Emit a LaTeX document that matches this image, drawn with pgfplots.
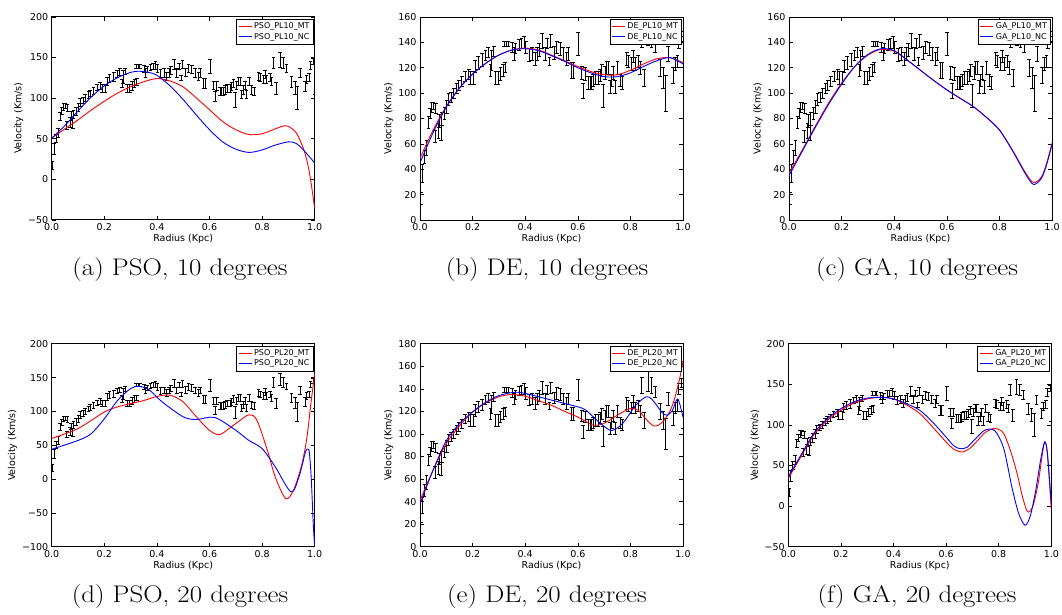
\documentclass[border=0pt]{standalone}
\usepackage{fontspec}
\usepackage{pgfplots}
\usepackage{pgfplotstable}
\pgfplotsset{compat=1.18}
\newfontfamily\dejavu{DejaVu Sans}

\pgfplotstableread{
x y e
0.003 17 5
0.009 37 7
0.017 50 5
0.025 57 6
0.032 77 5
0.038 84 4
0.045 89 4
0.051 90 3
0.057 66 5
0.060 88 4
0.070 70 6
0.073 78 5
0.080 69 6
0.083 80 5
0.093 84 5
0.102 89 5
0.108 95 5
0.119 97 4
0.128 100 4
0.140 104 4
0.147 106 4
0.159 109 4
0.172 113 4
0.185 115 4
0.191 112 5
0.204 112 5
0.210 121 5
0.220 124 5
0.236 126 5
0.249 130 4
0.259 132 4
0.268 118 5
0.272 126 8
0.280 133 4
0.287 112 5
0.297 112 5
0.306 115 5
0.315 118 5
0.320 139 2
0.323 120 4
0.330 139 2
0.335 139 2
0.351 136 4
0.357 131 5
0.363 135 4
0.376 138 4
0.386 139 4
0.395 140 5
0.402 136 5
0.414 130 5
0.427 131 5
0.437 127 5
0.446 131 5
0.453 134 5
0.465 141 6
0.475 131 5
0.484 139 4
0.492 125 3
0.497 141 5
0.510 132 5
0.520 136 5
0.532 135 5
0.545 131 5
0.558 127 5
0.564 131 5
0.577 118 6
0.583 118 6
0.602 139 9
0.615 116 5
0.621 102 6
0.627 115 5
0.640 108 5
0.646 108 5
0.653 108 5
0.659 110 5
0.668 112 5
0.678 112 5
0.684 114 5
0.691 118 5
0.697 98 9
0.703 116 5
0.710 120 5
0.716 120 5
0.722 105 5
0.729 110 5
0.735 116 5
0.741 105 5
0.751 120 5
0.760 110 5
0.769 108 5
0.786 127 5
0.792 125 5
0.805 123 5
0.811 129 5
0.817 123 5
0.830 125 5
0.836 120 5
0.843 143 7
0.853 112 7
0.868 147 9
0.880 143 7
0.893 137 5
0.912 120 7
0.925 112 8
0.934 100 14
0.944 131 6
0.963 114 6
0.969 123 5
0.979 125 5
0.984 140 5
0.995 145 4
1.000 125 20
}\datatab

\pgfplotsset{
  panel/.style={
    scale only axis, width=263pt, height=203pt,
    xmin=0, xmax=1,
    xtick={0,0.2,0.4,0.6,0.8,1},
    xticklabels={0.0,0.2,0.4,0.6,0.8,1.0},
    tick align=inside, major tick length=4pt,
    tick style={black, line width=0.6pt},
    axis line style={black, line width=0.8pt},
    ticklabel style={font=\dejavu\fontsize{9.5}{10}\selectfont},
    label style={font=\dejavu\fontsize{9.5}{10}\selectfont},
    xlabel={Radius (Kpc)}, ylabel={Velocity (Km/s)},
    xlabel style={yshift=3pt},
    ylabel style={yshift=-2pt},
    legend style={font=\dejavu\fontsize{8}{9}\selectfont, draw=black, line width=0.6pt, fill=white,
      at={(rel axis cs:0.995,0.99)}, anchor=north east, inner sep=1.5pt, row sep=-1pt, cells={anchor=west}},
    legend image code/.code={\draw[##1] (0pt,0pt) -- (13pt,0pt);},
  },
  dat/.style={black, only marks, mark=*, mark size=0pt, forget plot,
    error bars/.cd, y dir=both, y explicit, error mark=|,
    error bar style={black, solid, line width=0.7pt},
    error mark options={black, solid, line width=0.7pt, mark size=1.9pt}},
  mt/.style={red, line width=0.9pt, smooth, no marks, forget plot},
  nc/.style={blue, line width=0.9pt, smooth, no marks, forget plot},
}
\newcommand\subcap[1]{\scalebox{1.12}[1]{\fontsize{24}{28}\selectfont #1}}
\newcommand\legimgs{\addlegendimage{red, line width=1pt}\addlegendimage{blue, line width=1pt}}

\begin{document}
\begin{tikzpicture}
\useasboundingbox (0,0) rectangle (1062pt,-614pt);

% (a)
\begin{axis}[panel, at={(51.7pt,-219.8pt)}, anchor=south west,
  ymin=-50, ymax=200, ytick={-50,0,50,100,150,200},
  yticklabels={−50,0,50,100,150,200}]
\legimgs
\addplot[dat] table[x=x,y=y,y error=e]{\datatab};
\addplot[mt] coordinates {(0,50.6) (0.05,62) (0.1,73) (0.15,85) (0.2,96) (0.25,106) (0.3,114) (0.35,120) (0.4,124) (0.45,121) (0.5,113.6) (0.55,100) (0.6,85.6) (0.65,71) (0.7,61) (0.75,55) (0.8,56) (0.85,62) (0.88,65.5) (0.9,65) (0.93,57) (0.96,35) (0.98,8) (1.0,-36)};
\addplot[nc] coordinates {(0,50.6) (0.05,66) (0.1,84) (0.15,101) (0.2,115) (0.25,125) (0.3,131.5) (0.33,133) (0.37,131.5) (0.4,128) (0.45,115) (0.5,98) (0.55,79) (0.6,61) (0.65,46) (0.7,37) (0.75,33) (0.8,36) (0.85,42) (0.9,46) (0.93,44) (0.96,35) (1.0,20)};
\legend{PSO\_PL10\_MT, PSO\_PL10\_NC}
\end{axis}

% (b)
\begin{axis}[panel, at={(420pt,-220pt)}, anchor=south west,
  ymin=0, ymax=160, ytick={0,20,40,60,80,100,120,140,160},
  yticklabels={0,20,40,60,80,100,120,140,160}]
\legimgs
\addplot[dat] table[x=x,y=y,y error=e]{\datatab};
\addplot[mt] coordinates {(0,48.7) (0.05,71) (0.1,89.5) (0.15,104) (0.2,115) (0.25,123.5) (0.3,130) (0.35,134) (0.4,135.5) (0.45,134) (0.5,130) (0.55,125.5) (0.6,121) (0.65,117) (0.7,114.5) (0.75,114.5) (0.8,118) (0.85,123) (0.9,127) (0.95,128) (1.0,124)};
\addplot[nc] coordinates {(0,45) (0.05,69) (0.1,89) (0.15,104) (0.2,115) (0.25,123.5) (0.3,130) (0.35,134) (0.4,135) (0.45,133.5) (0.5,129.5) (0.55,125) (0.6,120) (0.65,116) (0.7,113) (0.75,113) (0.8,116) (0.85,121) (0.9,125.5) (0.95,128) (1.0,123)};
\legend{DE\_PL10\_MT, DE\_PL10\_NC}
\end{axis}

% (c)
\begin{axis}[panel, at={(789pt,-220pt)}, anchor=south west,
  ymin=0, ymax=160, ytick={0,20,40,60,80,100,120,140,160},
  yticklabels={0,20,40,60,80,100,120,140,160}]
\legimgs
\addplot[dat] table[x=x,y=y,y error=e]{\datatab};
\addplot[mt] coordinates {(0,37) (0.05,55) (0.1,74) (0.15,92) (0.2,108) (0.25,121) (0.3,130) (0.35,134.5) (0.4,133) (0.45,126) (0.5,118) (0.55,110) (0.6,102.6) (0.65,96) (0.7,89.5) (0.75,81) (0.8,71) (0.85,55) (0.9,37) (0.93,29.5) (0.96,34) (0.98,45) (1.0,60.5)};
\addplot[nc] coordinates {(0,35) (0.05,54) (0.1,73) (0.15,91) (0.2,107) (0.25,121) (0.3,130.5) (0.35,135) (0.4,133.5) (0.45,126) (0.5,118) (0.55,110) (0.6,102.6) (0.65,96) (0.7,89.5) (0.75,81) (0.8,71) (0.85,54.5) (0.9,36) (0.93,28) (0.96,33) (0.98,44) (1.0,59.5)};
\legend{GA\_PL10\_MT, GA\_PL10\_NC}
\end{axis}

% (d)
\begin{axis}[panel, at={(51.7pt,-546.7pt)}, anchor=south west,
  ymin=-100, ymax=200, ytick={-100,-50,0,50,100,150,200},
  yticklabels={−100,−50,0,50,100,150,200}]
\legimgs
\addplot[dat] table[x=x,y=y,y error=e]{\datatab};
\addplot[mt] coordinates {(0,60) (0.1,74.6) (0.2,99) (0.25,106.6) (0.3,111.5) (0.35,116) (0.4,122) (0.45,124) (0.5,114) (0.55,92) (0.6,72) (0.64,66) (0.7,82) (0.75,95) (0.78,87) (0.82,42.6) (0.85,3) (0.89,-29) (0.92,-16) (0.95,20) (0.97,60) (0.985,110) (1.0,156)};
\addplot[nc] coordinates {(0,44) (0.1,57) (0.15,67) (0.2,89) (0.25,116) (0.3,133.6) (0.33,137) (0.37,132) (0.42,114) (0.5,92) (0.55,88) (0.62,91) (0.7,72) (0.75,57) (0.8,45) (0.85,18) (0.91,-19) (0.94,3) (0.965,40) (0.975,44) (0.98,38) (0.987,0) (0.995,-70) (1.0,-100)};
\legend{PSO\_PL20\_MT, PSO\_PL20\_NC}
\end{axis}

% (e)
\begin{axis}[panel, at={(420pt,-546.7pt)}, anchor=south west,
  ymin=0, ymax=180, ytick={0,20,40,60,80,100,120,140,160,180},
  yticklabels={0,20,40,60,80,100,120,140,160,180}]
\legimgs
\addplot[dat] table[x=x,y=y,y error=e]{\datatab};
\addplot[mt] coordinates {(0,41) (0.05,68) (0.1,91.5) (0.15,107) (0.2,119.5) (0.25,127.5) (0.3,133) (0.35,135) (0.4,133.4) (0.45,129.5) (0.5,125.4) (0.55,120) (0.6,115) (0.63,111) (0.66,107.7) (0.69,108.5) (0.72,112) (0.76,118) (0.8,122.5) (0.83,121) (0.86,113) (0.89,107) (0.92,110) (0.95,120) (0.97,133) (0.99,152) (1.0,165)};
\addplot[nc] coordinates {(0,38) (0.05,68) (0.1,94) (0.15,109) (0.2,119.5) (0.25,128) (0.3,134) (0.37,137) (0.45,133) (0.5,130) (0.55,127) (0.62,122.5) (0.65,117) (0.68,110.6) (0.71,105) (0.73,103) (0.755,106) (0.78,112) (0.82,125.4) (0.86,133) (0.88,131) (0.9,125.4) (0.92,119) (0.94,116.5) (0.96,121) (0.98,131) (1.0,115)};
\legend{DE\_PL20\_MT, DE\_PL20\_NC}
\end{axis}

% (f)
\begin{axis}[panel, at={(788.3pt,-546.7pt)}, anchor=south west,
  ymin=-50, ymax=200, ytick={-50,0,50,100,150,200},
  yticklabels={−50,0,50,100,150,200}]
\legimgs
\addplot[dat] table[x=x,y=y,y error=e]{\datatab};
\addplot[mt] coordinates {(0,34) (0.05,62) (0.1,89) (0.15,106) (0.2,118) (0.25,127) (0.3,132) (0.35,134) (0.4,132) (0.45,124.5) (0.5,114) (0.55,97) (0.6,79) (0.63,70) (0.66,66.6) (0.69,71) (0.72,81) (0.75,91) (0.78,95.5) (0.8,94.5) (0.82,89) (0.845,68) (0.87,40) (0.89,12) (0.91,-7) (0.93,0) (0.95,28) (0.965,62) (0.975,79) (0.985,65) (1.0,-5)};
\addplot[nc] coordinates {(0,36) (0.05,64) (0.1,91) (0.15,108) (0.2,120) (0.25,128.5) (0.3,133) (0.35,134) (0.4,132) (0.45,126) (0.5,118) (0.55,103) (0.6,85) (0.63,74) (0.655,70.7) (0.68,72.5) (0.7,79) (0.74,92) (0.765,95) (0.79,91) (0.82,70) (0.85,23.6) (0.875,-8) (0.9,-23.6) (0.92,-12) (0.94,18) (0.96,58) (0.975,79) (0.985,65) (1.0,3)};
\legend{GA\_PL20\_MT, GA\_PL20\_NC}
\end{axis}

\begin{scope}[every node/.style={anchor=base, inner sep=0pt}]
\node at (180pt,-275.5pt) {\subcap{(a) PSO, 10 degrees}};
\node at (547pt,-275.5pt) {\subcap{(b) DE, 10 degrees}};
\node at (917pt,-275.5pt) {\subcap{(c) GA, 10 degrees}};
\node at (180pt,-602pt) {\subcap{(d) PSO, 20 degrees}};
\node at (547pt,-602pt) {\subcap{(e) DE, 20 degrees}};
\node at (917pt,-602pt) {\subcap{(f) GA, 20 degrees}};
\end{scope}
\end{tikzpicture}
\end{document}
